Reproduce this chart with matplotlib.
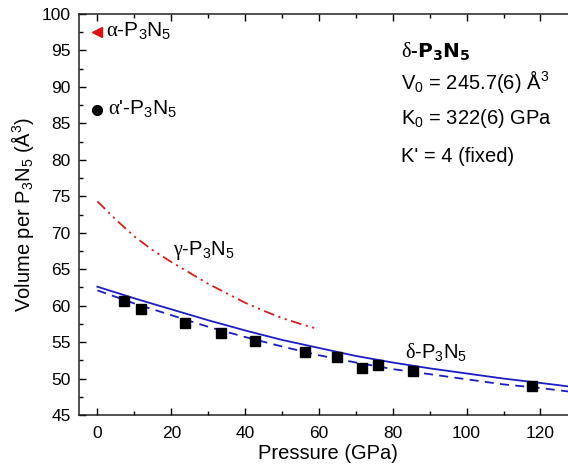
import matplotlib
matplotlib.use("Agg")
import matplotlib.pyplot as plt
from matplotlib.ticker import MultipleLocator

plt.rcParams["font.family"] = ["Liberation Sans", "DejaVu Sans"]
plt.rcParams["mathtext.fontset"] = "custom"
plt.rcParams["mathtext.rm"] = "Liberation Sans"
plt.rcParams["mathtext.sf"] = "Liberation Serif"
plt.rcParams["mathtext.default"] = "regular"

# measured delta-P3N5 volumes (GPa, A^3 per formula unit)
p_meas = [7.1, 11.9, 23.8, 33.6, 42.7, 56.3, 65.0, 71.8, 76.1, 85.5, 117.8]
v_meas = [60.6, 59.5, 57.6, 56.2, 55.2, 53.6, 53.0, 51.4, 51.9, 51.1, 49.0]

# EoS curves read along the fits
p_fit = [0, 10, 20, 30, 40, 50, 60, 70, 80, 90, 100, 110, 120, 128]
v_fit_solid = [62.6, 61.0, 59.5, 58.0, 56.6, 55.3, 54.2, 53.1, 52.2, 51.4, 50.7, 50.0, 49.4, 48.9]
v_fit_dashed = [62.1, 60.3, 58.7, 57.1, 55.7, 54.4, 53.2, 52.2, 51.3, 50.6, 49.9, 49.2, 48.7, 48.2]

# gamma-P3N5 EoS
p_gamma = [0, 5, 10, 15, 20, 25, 30, 35, 40, 45, 50, 55, 59]
v_gamma = [74.3, 71.8, 69.5, 67.6, 66.0, 64.5, 63.0, 61.7, 60.4, 59.3, 58.3, 57.5, 56.9]

# ambient-pressure polymorphs
p_alpha, v_alpha = [0], [97.6]
p_alpha2, v_alpha2 = [0], [86.9]

fig = plt.figure(figsize=(5.68, 4.67), dpi=100)
ax = fig.add_axes([0.139, 0.1113, 0.8775, 0.8587])

blue = "#1c1cc4"
ax.plot(p_gamma, v_gamma, color="#d81e1e", lw=1.3, linestyle=(0, (6, 2.5, 1.2, 2.5, 1.2, 2.5)))
ax.plot(p_fit, v_fit_solid, color=blue, lw=1.3)
ax.plot(p_fit, v_fit_dashed, color=blue, lw=1.3, linestyle=(0, (5, 3.5)))
ax.plot(p_meas, v_meas, "s", color="black", ms=6.5, zorder=5)
ax.plot(p_alpha, v_alpha, "<", color="#e01010", ms=7, clip_on=False, zorder=5)
ax.plot(p_alpha2, v_alpha2, "o", color="black", ms=7, clip_on=False, zorder=5)

fs = 14.5
ax.text(2.4, 97.6, r"$\mathsf{α}$-P$_3$N$_5$", fontsize=15, va="center", ha="left")
ax.text(2.8, 86.9, r"$\mathsf{α}$'-P$_3$N$_5$", fontsize=15, va="center", ha="left")
ax.text(20.5, 67.6, r"$\mathsf{γ}$-P$_3$N$_5$", fontsize=fs, va="center", ha="left")
ax.text(83.3, 53.5, r"$\mathsf{δ}$-P$_3$N$_5$", fontsize=fs, va="center", ha="left")

ax.text(82.3, 94.8, r"$\mathsf{δ}$-$\mathbf{P_3N_5}$", fontsize=fs, va="center", ha="left",
        fontweight="bold")
ax.text(82.3, 90.7, "V$_0$ = 245.7(6) Å$^3$", fontsize=fs, va="center", ha="left")
ax.text(82.3, 85.7, "K$_0$ = 322(6) GPa", fontsize=fs, va="center", ha="left")
ax.text(82.3, 80.4, "K' = 4 (fixed)", fontsize=fs, va="center", ha="left")

ax.set_xlim(-5, 130)
ax.set_ylim(45, 100)
ax.xaxis.set_major_locator(MultipleLocator(20))
ax.xaxis.set_minor_locator(MultipleLocator(10))
ax.yaxis.set_major_locator(MultipleLocator(5))
ax.yaxis.set_minor_locator(MultipleLocator(2.5))
ax.tick_params(which="both", direction="in", top=True, right=True, labelsize=12.5, width=1)
ax.tick_params(which="major", length=5)
ax.tick_params(axis="x", which="major", pad=8)
ax.tick_params(axis="y", which="major", pad=6)
ax.tick_params(which="minor", length=3)
for s in ax.spines.values():
    s.set_linewidth(1.1)
    s.set_color("#222222")

ax.set_xlabel("Pressure (GPa)", fontsize=14.5, labelpad=2)
ax.set_ylabel("Volume per P$_3$N$_5$ (Å$^3$)", fontsize=14.5, labelpad=4)

fig.savefig("out.png", dpi=100)
